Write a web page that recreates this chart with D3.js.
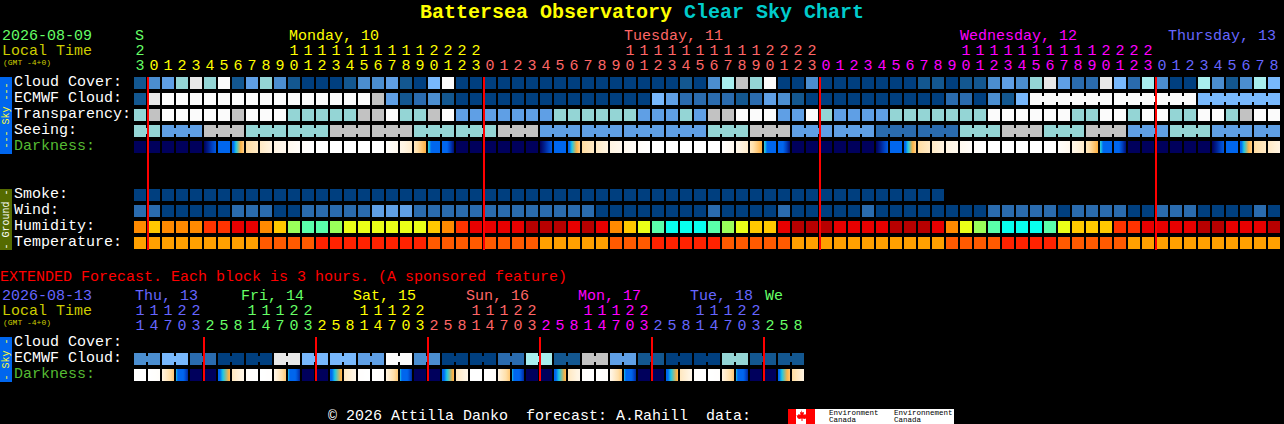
<!DOCTYPE html>
<html>
<head>
<meta charset="utf-8">
<title>Battersea Observatory Clear Sky Chart</title>
<script src="https://cdn.jsdelivr.net/npm/d3@7"></script>
<style>
  html, body { margin: 0; padding: 0; background: #000; overflow: hidden; }
  svg { display: block; }
  text { font-family: "Liberation Mono", monospace; font-size: 15px; white-space: pre; }
  rect { shape-rendering: crispEdges; }
</style>
</head>
<body>
<svg id="chart" width="1284" height="424"></svg>
<script>
// hours shown above each block, first block is 23h on Sunday
const hours = [23,0,1,2,3,4,5,6,7,8,9,10,11,12,13,14,15,16,17,18,19,20,21,22,23,
  0,1,2,3,4,5,6,7,8,9,10,11,12,13,14,15,16,17,18,19,20,21,22,23,
  0,1,2,3,4,5,6,7,8,9,10,11,12,13,14,15,16,17,18,19,20,21,22,23,
  0,1,2,3,4,5,6,7,8];
const extHours = [11,14,17,20,23,2,5,8,11,14,17,20,23,2,5,8,11,14,17,20,23,2,5,8,
  11,14,17,20,23,2,5,8,11,14,17,20,23,2,5,8,11,14,17,20,23,2,5,8];

// cloud style levels 0 (clear) .. 10 (overcast), also used by transparency, seeing, wind, smoke
const cloudCover = [1,3,4,7,9,7,10,1,4,7,3,1,0,0,0,1,3,3,4,1,0,5,10,0,0,0,0,0,0,0,0,0,0,0,0,0,0,0,0,1,0,3,6,8,7,10,0,0,3,0,0,0,
  0,0,0,0,1,1,0,1,1,3,4,3,7,9,4,2,2,9,5,2,6,3,0,0,6,3,1,3,6,5];
const ecmwfCloud = [1,9,10,10,10,10,10,10,10,10,10,10,10,10,10,10,10,8,4,1,2,3,1,0,0,0,0,0,0,0,0,0,0,0,0,0,0,5,4,2,2,2,2,1,2,4,3,1,0,0,0,0,
  0,0,0,0,0,0,2,2,0,3,1,5,10,10,5];
const transparency = [7,8,10,10,10,10,10,8,10,10,10,7,7,7,7,7,8,8,10,7,7,8,10,4,4,4,4,4,4,4,7,7,7,7,7,7,4,4,4,7,4,8,8,10,10,10,4,4,10,7,4,4,
  4,4,7,7,7,7,7,7,7,10,10,10,10,10,10,7,7,10,10,7,10,10,7,7,10,10,7,8,10,10];
const seeing = [7,4,8,7,7,8,8,7,7,8,4,4,4,4,7,8,4,4,2,2,7,8,7,8,4,7,4,4];
const seeingSpans = [2,3,3,3,3,3,3,3,3,3,3,3,3,3,3,3,3,3,3,3,3,3,3,3,3,3,3,2];
const smoke = [0,0,0,0,0,0,0,0,0,0,0,0,0,0,0,0,0,0,0,0,0,0,0,0,0,0,0,0,0,0,0,0,0,0,0,0,0,0,0,0,0,0,0,0,0,0,0,0,0,0,0,0,0,0,0,0,0,0];
const wind = [2,2,0,0,0,0,0,2,2,2,0,0,2,2,2,2,2,4,4,4,2,2,2,2,2,2,2,2,2,2,2,2,2,0,0,0,0,0,0,0,0,2,0,0,0,0,2,0,0,0,0,0,
  2,0,0,0,0,0,0,0,0,2,2,2,2,2,0,2,2,2,2,0,0,2,2,2,0,0,0,0,2,0];
const humidity = [70,65,70,70,70,75,75,80,80,70,65,55,50,50,55,60,60,60,60,60,60,65,70,75,80,80,80,80,85,85,85,80,85,80,70,65,60,50,45,45,45,50,55,60,65,65,80,85,85,85,80,80,
  80,80,85,85,85,80,70,60,55,50,45,45,45,50,60,65,65,65,75,75,80,80,80,80,85,85,80,80,80,85];
const temperature = [20,20,20,20,20,20,20,20,20,25,25,25,25,30,30,30,30,30,30,30,30,25,25,25,25,25,25,25,25,20,20,20,20,20,25,25,25,30,30,30,30,30,25,25,25,25,25,20,20,20,20,20,
  20,20,20,20,20,20,25,25,25,25,30,30,30,30,25,25,25,25,25,20,20,20,20,20,20,20,20,20,20,20];

// limiting darkness at the left and right edge of each block
const darkStart = [5,5,5,5,5,5,1,.8,-1.9,-2.5,-3,-3.4,-3.8,-4,-4,-4,-4,-4,-3.9,-3.2,-2.4,-.2,1,5,5,5,5,5,5,5,1,.8,-1.9,-2.5,-3,-3.4,-3.8,-4,-4,-4,-4,-4,-3.9,-3.2,-2.4,-.2,1,5,5,5,5,5,
  5,5,1,.8,-1.9,-2.5,-3,-3.4,-3.8,-4,-4,-4,-4,-4,-3.9,-3.2,-2.4,-.2,1,5,5,5,5,5,5,5,1,.8,-1.9,-2.5];
const darkEnd = [5,5,5,5,5,2.8,1,-1.7,-2.5,-3,-3.4,-3.8,-4,-4,-4,-4,-4,-4,-3.4,-2.6,-1,2.5,4.6,5,5,5,5,5,5,2.8,1,-1.7,-2.5,-3,-3.4,-3.8,-4,-4,-4,-4,-4,-4,-3.4,-2.6,-1,2.5,4.6,5,5,5,5,5,
  5,2.8,1,-1.7,-2.5,-3,-3.4,-3.8,-4,-4,-4,-4,-4,-4,-3.4,-2.6,-1,2.5,4.6,5,5,5,5,5,5,2.8,1,-1.7,-2.5,-3];

// extended forecast, one block is 3 hours, ECMWF values span two blocks
const extEcmwf = [3,5,2,0,0,9,5,5,4,10,3,0,0,2,6,1,8,4,1,0,0,7,1,1];
const extDarkStart = [-4,-4,-3,0,5,5,.8,-2.4,-3.9,-4,-3.2,0,5,5,.8,-2.4,-3.9,-4,-3,0,5,5,.8,-2.4,
  -4,-4,-3,0,5,5,.8,-2.4,-3.9,-4,-3.2,0,5,5,.8,-2.4,-3.9,-4,-3,0,5,5,.7,-1.9];
const extDarkEnd = [-4,-3.8,-1.5,4,5,5,-1.2,-3.2,-4,-3.9,-1.5,4,5,5,-1.2,-3.2,-4,-3.9,-1.5,4,5,5,-1.2,-3.2,
  -4,-3.8,-1.5,4,5,5,-1.2,-3.2,-4,-3.9,-1.5,4,5,5,-1.2,-3.2,-4,-3.9,-1.5,4,5,5,-1.5,-3];

const days = [
  { label: "S", col: 0, from: 0, color: "#66ff66", dx: 1 },
  { label: "Monday, 10", col: 11, from: 1, color: "#ffff00", dx: 1 },
  { label: "Tuesday, 11", col: 35, from: 25, color: "#ff6666", dx: 0 },
  { label: "Wednesday, 12", col: 59, from: 49, color: "#ff00ff", dx: 0 },
  { label: "Thursday, 13", col: 74, from: 73, color: "#6666ff", dx: -2 }
];
const extDays = [
  { label: "Thu, 13", col: 0, from: 0, color: "#6666ff", dx: 1 },
  { label: "Fri, 14", col: 8, from: 5, color: "#66ff66", dx: -5 },
  { label: "Sat, 15", col: 16, from: 13, color: "#ffff00", dx: -5 },
  { label: "Sun, 16", col: 24, from: 21, color: "#ff6666", dx: -4 },
  { label: "Mon, 17", col: 32, from: 29, color: "#ff00ff", dx: -4 },
  { label: "Tue, 18", col: 40, from: 37, color: "#6666ff", dx: -4 },
  { label: "We", col: 45, from: 45, color: "#66ff66", dx: 1 }
];
const midnights = [1, 25, 49, 73];
const extMidnights = [5, 13, 21, 29, 37, 45];

const skyLabels = ["Cloud Cover:", "ECMWF Cloud:", "Transparency:", "Seeing:", "Darkness:"];
const groundLabels = ["Smoke:", "Wind:", "Humidity:", "Temperature:"];
const extLabels = ["Cloud Cover:", "ECMWF Cloud:", "Darkness:"];

const blockW = 12, blockH = 12;
const x = d3.scaleLinear().domain([0, 1]).range([134, 148]);

const cloudColor = d3.scaleOrdinal()
  .domain(d3.range(11))
  .range(["#003f7f", "#135790", "#2a6bae", "#4b8ed0", "#5f9fe5", "#78b8fc", "#a8eeee", "#94d5d5", "#c2c2c2", "#e8e8e8", "#fbfbfb"]);
const humidityColor = d3.scaleOrdinal()
  .domain([45, 50, 55, 60, 65, 70, 75, 80, 85])
  .range(["#08ffee", "#5affaa", "#9aff5a", "#eaff18", "#ffc800", "#ff8a00", "#ff3300", "#e80000", "#b80000"]);
const temperatureColor = d3.scaleOrdinal()
  .domain([20, 25, 30])
  .range(["#ffa000", "#ff5a00", "#ff2200"]);
const darkColor = d3.scaleLinear()
  .domain([-4, -3, -2, -1, 0, .5, 2.5, 3.5, 4.2, 5])
  .range(["#ffffff", "#fff4e2", "#ffdfa8", "#ffb040", "#18c8e8", "#0066ee", "#0066ee", "#0040c0", "#00208f", "#00005c"])
  .clamp(true);

const svg = d3.select("#chart");
const defs = svg.append("defs");

function addText(parent, str, px, py, fill, size, weight) {
  return parent.append("text")
    .attr("x", px)
    .attr("y", py)
    .attr("fill", fill)
    .style("font-size", (size || 15) + "px")
    .style("font-weight", weight || "normal")
    .text(str);
}

// row of blocks, spans > 1 get joined by a thin bridge
function drawRow(values, color, top, spans) {
  const g = svg.append("g");
  let col = 0;
  values.forEach((v, n) => {
    const span = spans ? spans(n) : 1;
    d3.range(span).forEach(k => {
      g.append("rect")
        .attr("x", x(col + k))
        .attr("y", top)
        .attr("width", blockW)
        .attr("height", blockH)
        .attr("fill", color(v));
      if (k < span - 1) {
        g.append("rect")
          .attr("x", x(col + k) + blockW)
          .attr("y", top + 3)
          .attr("width", x(1) - x(0) - blockW)
          .attr("height", blockH - 6)
          .attr("fill", color(v));
      }
    });
    col += span;
  });
}

// darkness row, each block is a gradient from its left to its right value
function drawDarkness(name, starts, ends, top) {
  const g = svg.append("g");
  starts.forEach((a, i) => {
    const id = name + i;
    const grad = defs.append("linearGradient").attr("id", id);
    d3.range(13).forEach(t => {
      grad.append("stop")
        .attr("offset", t / 12)
        .attr("stop-color", darkColor(a + (ends[i] - a) * t / 12));
    });
    g.append("rect")
      .attr("x", x(i))
      .attr("y", top)
      .attr("width", blockW)
      .attr("height", blockH)
      .attr("fill", `url(#${id})`);
  });
}

function drawHours(list, dayList, baseTens, baseUnits) {
  const colorAt = i => dayList.filter(d => d.from <= i).pop().color;
  list.forEach((h, i) => {
    addText(svg, String(h % 10), x(i) + 6, baseUnits, colorAt(i)).attr("text-anchor", "middle");
    if (h >= 10) {
      addText(svg, String(Math.floor(h / 10)), x(i) + 6, baseTens, colorAt(i)).attr("text-anchor", "middle");
    }
  });
  dayList.forEach(d => addText(svg, d.label, x(d.col) + d.dx, baseTens - 15, d.color));
}

function drawSideBar(label, top, height, bg, fg) {
  svg.append("rect")
    .attr("x", 0).attr("y", top)
    .attr("width", 12).attr("height", height)
    .attr("fill", bg);
  addText(svg, label, 0, 0, fg, 10)
    .attr("text-anchor", "middle")
    .attr("transform", `translate(9,${top + height / 2}) rotate(-90)`);
}

function drawRedLines(cols, y1, y2) {
  svg.selectAll(null).data(cols).enter().append("rect")
    .attr("x", d => x(d) - 1)
    .attr("y", y1)
    .attr("width", 2)
    .attr("height", y2 - y1)
    .attr("fill", "#ff0000");
}

// title
const title = svg.append("text")
  .attr("x", 420).attr("y", 18)
  .style("font-size", "20px").style("font-weight", "bold");
title.append("tspan").attr("fill", "#ffff00").text("Battersea Observatory");
title.append("tspan").attr("fill", "#00cccc").text(" Clear Sky Chart");

// main chart header
addText(svg, "2026-08-09", 2, 40, "#66ff66");
addText(svg, "Local Time", 2, 55, "#cccc00");
addText(svg, "(GMT -4+0)", 3, 65, "#cccc00", 8);
drawHours(hours, days, 55, 70);

drawSideBar("--- Sky ---", 77, 77, "#0066ee", "#ffff33");
drawSideBar("- Ground -", 189, 61, "#556b00", "#ffffff");

skyLabels.forEach((t, i) => addText(svg, t, 14, 86 + i * 16, t === "Darkness:" ? "#55bb33" : "#ffffff"));
groundLabels.forEach((t, i) => addText(svg, t, 14, 198 + i * 16, "#ffffff"));

drawRow(cloudCover, cloudColor, 77);
drawRow(ecmwfCloud, cloudColor, 93, n => n < 64 ? 1 : 6);
drawRow(transparency, cloudColor, 109);
drawRow(seeing, cloudColor, 125, n => seeingSpans[n]);
drawDarkness("dark", darkStart, darkEnd, 141);

drawRow(smoke, cloudColor, 189);
drawRow(wind, cloudColor, 205);
drawRow(humidity, humidityColor, 221);
drawRow(temperature, temperatureColor, 237);

drawRedLines(midnights, 77, 250);

// extended forecast
addText(svg, "EXTENDED Forecast. Each block is 3 hours. (A sponsored feature)", 0, 281, "#ff0000");
addText(svg, "2026-08-13", 2, 300, "#6666ff");
addText(svg, "Local Time", 2, 315, "#cccc00");
addText(svg, "(GMT -4+0)", 3, 325, "#cccc00", 8);
drawHours(extHours, extDays, 315, 330);

drawSideBar("- Sky -", 337, 45, "#0066ee", "#ffff33");
extLabels.forEach((t, i) => addText(svg, t, 14, 346 + i * 16, t === "Darkness:" ? "#55bb33" : "#ffffff"));

drawRow(extEcmwf, cloudColor, 353, () => 2);
drawDarkness("extdark", extDarkStart, extDarkEnd, 369);
drawRedLines(extMidnights, 337, 381);

// footer
addText(svg, "\u00a9 2026 Attilla Danko  forecast: A.Rahill  data:", 328, 420, "#ffffff");

// sponsor strip, flag and agency names
svg.append("rect").attr("x", 788).attr("y", 409).attr("width", 166).attr("height", 15).attr("fill", "#ffffff");
svg.append("rect").attr("x", 788).attr("y", 409).attr("width", 8).attr("height", 15).attr("fill", "#ff0000");
svg.append("rect").attr("x", 806).attr("y", 409).attr("width", 9).attr("height", 15).attr("fill", "#ff0000");
svg.append("path")
  .attr("d", "M801 410l1.5 2.5 1.5-.5-.5 3 2-1 .5 1.5 1.5-.5-1 3-1.5 1-2.5-.5v2.5h-1v-2.5l-2.5.5-1.5-1-1-3 1.5.5.5-1.5 2 1-.5-3 1.5.5z")
  .attr("fill", "#ff0000");
addText(svg, "Environment", 829, 415, "#000000", 7.5);
addText(svg, "Canada", 829, 422, "#000000", 7.5);
addText(svg, "Environnement", 894, 415, "#000000", 7.5);
addText(svg, "Canada", 894, 422, "#000000", 7.5);
</script>
</body>
</html>
